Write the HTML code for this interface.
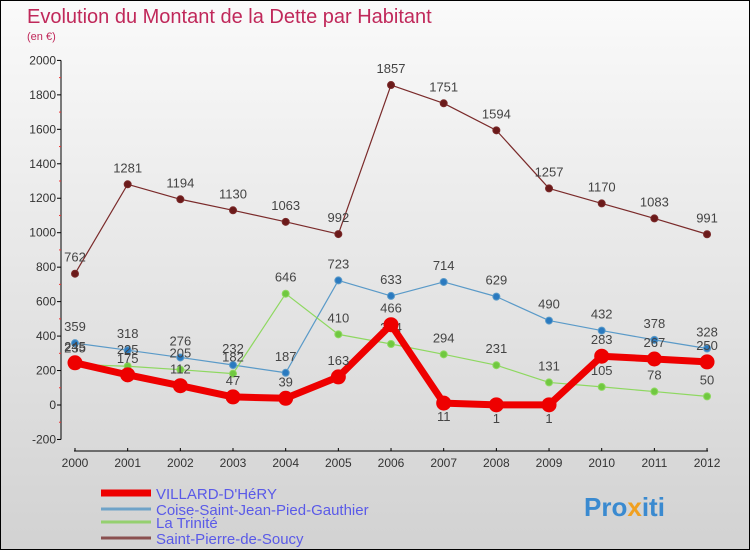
<!DOCTYPE html>
<html><head><meta charset="utf-8"><style>
body{margin:0}
#c{width:748px;height:548px;border:1px solid #000;background:linear-gradient(#fafafa,#d2d2d2);position:relative;overflow:hidden;font-family:"Liberation Sans",sans-serif}
</style></head><body>
<div id="c">
<svg id="s" width="748" height="548" xmlns="http://www.w3.org/2000/svg"></svg>
</div>
<script>
const years=[2000,2001,2002,2003,2004,2005,2006,2007,2008,2009,2010,2011,2012];
const villard=[245,175,112,47,39,163,466,11,1,1,283,267,250];
const coise=[359,318,276,232,187,723,633,714,629,490,432,378,328];
const trinite=[235,225,205,182,646,410,354,294,231,131,105,78,50];
const stpierre=[762,1281,1194,1130,1063,992,1857,1751,1594,1257,1170,1083,991];
const yTicks=[-200,0,200,400,600,800,1000,1200,1400,1600,1800,2000];
const names=["VILLARD-D'HéRY","Coise-Saint-Jean-Pied-Gauthier","La Trinité","Saint-Pierre-de-Soucy"];
const NS="http://www.w3.org/2000/svg";
const s=document.getElementById('s');
const X=i=>74+i*52.67;
const Y=v=>404-v*0.1723;
function el(t,a,p){const e=document.createElementNS(NS,t);for(const k in a)e.setAttribute(k,a[k]);(p||s).appendChild(e);return e;}
let t=el('text',{x:26,y:22,'font-size':20,fill:'#c0285a'});t.textContent='Evolution du Montant de la Dette par Habitant';

t=el('text',{x:26,y:39,'font-size':11,fill:'#c0285a'});t.textContent='(en €)';

let ya=el('line',{x1:60,y1:Y(2000),x2:60,y2:Y(-200),stroke:'#000'});

yTicks.forEach((v,i)=>{
 el('line',{x1:56,x2:60,y1:Y(v),y2:Y(v),stroke:'#000'});
 if(i<yTicks.length-1)el('line',{x1:58,x2:60,y1:Y(v+100),y2:Y(v+100),stroke:'#e33'});
 const l=el('text',{x:55,y:Y(v)+4,'font-size':12,fill:'#333','text-anchor':'end'});l.textContent=v;
 
});
let xa=el('line',{x1:X(0)-1,y1:450,x2:X(12)+1,y2:450,stroke:'#000'});

years.forEach((y,i)=>{
 el('line',{x1:X(i),x2:X(i),y1:447,y2:450,stroke:'#000'});
 const l=el('text',{x:X(i),y:466,'font-size':12,fill:'#333','text-anchor':'middle'});l.textContent=y;
 
});
function series(data,color,dot,w,r,name,labelBelow){
 const g=el('g',{});
 
 el('polyline',{points:data.map((v,i)=>X(i)+','+Y(v)).join(' '),fill:'none',stroke:color,'stroke-width':w,'stroke-linejoin':'round'},g);
 data.forEach((v,i)=>{
  const c=el('circle',{cx:X(i),cy:Y(v),r:r,fill:dot,stroke:color,'stroke-width':1},g);
  
  const below=labelBelow&&labelBelow(v,i);
  const l=el('text',{x:X(i),y:below?Y(v)+18:Y(v)-12,'font-size':13,fill:'#444','text-anchor':'middle'},g);l.textContent=v;
 });
}
series(stpierre,'#7a2a2a','#6b1a1a',1.2,3.5,'saint-pierre-series');
series(coise,'#5a9ac8','#2a7ac0',1.2,3.5,'coise-series');
series(trinite,'#8ed860','#70c840',1.2,3.5,'trinite-series');
series(villard,'#ee0000','#ee0000',7,7,'villard-series',(v,i)=>v<20);
const lc=['#ee0000','#6fa3c8','#95d070','#8a5050'],lw=[7,3,3,3],ly=[492,508,521,537];
names.forEach((n,i)=>{
 const g=el('g',{});
 
 el('line',{x1:100,x2:150,y1:ly[i],y2:ly[i],stroke:lc[i],'stroke-width':lw[i]},g);
 const tt=el('text',{x:155,y:ly[i]+6,'font-size':15,fill:'#5a5ae8'},g);tt.textContent=n;
});
const p=el('text',{x:583,y:515,'font-size':26,'font-weight':'bold',fill:'#3a8ad0'});
p.innerHTML='Pro<tspan fill="#f0a020">x</tspan>iti';

</script>
</body></html>
